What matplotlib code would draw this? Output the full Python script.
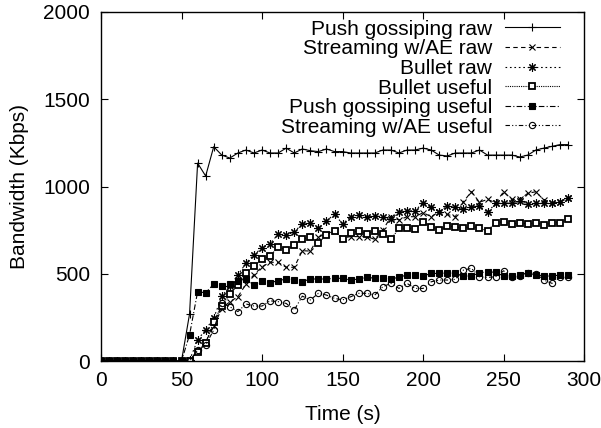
import matplotlib
matplotlib.use("Agg")
import matplotlib.pyplot as plt
import numpy as np

plt.rcParams['font.family'] = ['Liberation Sans', 'DejaVu Sans']

time = list(range(0, 295, 5))
zeros50 = [0] * 11  # t = 0..50

push_raw = zeros50 + [270, 1134, 1060, 1228, 1180, 1163, 1192, 1209, 1192, 1209,
                      1192, 1192, 1220, 1192, 1215, 1205, 1200, 1215, 1200, 1200,
                      1192, 1192, 1192, 1192, 1209, 1209, 1192, 1209, 1209, 1220,
                      1209, 1180, 1175, 1192, 1192, 1192, 1209, 1180, 1180, 1180,
                      1180, 1169, 1180, 1209, 1220, 1230, 1240, 1240]
stream_raw = zeros50 + [0, 60, 110, 200, 300, 340, 368, 440, 495, 540,
                        566, 565, 537, 537, 632, 630, 710, 730, 745, 705,
                        713, 713, 713, 697, 750, 827, 808, 827, 827, 850,
                        827, 856, 840, 827, 913, 970, 910, 926, 907, 970,
                        926, 926, 961, 970, 922, 907, 913, 932]
bullet_raw = zeros50 + [5, 120, 180, 246, 370, 430, 493, 560, 610, 648,
                        672, 727, 720, 741, 785, 789, 760, 802, 842, 785,
                        827, 836, 827, 831, 827, 812, 856, 861, 861, 907,
                        880, 856, 888, 880, 869, 884, 888, 852, 903, 907,
                        903, 918, 899, 903, 903, 903, 913, 932]
bullet_useful = zeros50 + [0, 53, 103, 225, 317, 383, 435, 506, 544, 583,
                           602, 653, 638, 665, 700, 709, 678, 722, 747, 697,
                           735, 747, 728, 747, 728, 697, 760, 760, 755, 798,
                           770, 753, 772, 770, 760, 774, 760, 747, 793, 798,
                           785, 793, 785, 793, 779, 793, 793, 812]
push_useful = zeros50 + [150, 397, 391, 441, 430, 441, 460, 470, 435, 460,
                         449, 460, 470, 464, 455, 470, 470, 470, 474, 474,
                         464, 470, 480, 474, 474, 470, 480, 493, 493, 487,
                         502, 502, 505, 502, 487, 487, 505, 512, 508, 487,
                         487, 493, 505, 493, 487, 487, 493, 493]
stream_useful = zeros50 + [0, 63, 92, 178, 332, 311, 283, 327, 315, 315,
                           345, 340, 330, 292, 372, 350, 388, 378, 359, 350,
                           368, 388, 388, 378, 426, 445, 416, 445, 416, 416,
                           454, 464, 464, 468, 521, 531, 483, 479, 483, 517,
                           483, 487, 506, 499, 464, 445, 479, 479]

labels = ["Push gossiping raw", "Streaming w/AE raw", "Bullet raw",
          "Bullet useful", "Push gossiping useful", "Streaming w/AE useful"]
series = [push_raw, stream_raw, bullet_raw, bullet_useful, push_useful, stream_useful]
styles = [
    dict(ls='-', marker='+', ms=6, mew=0.8),
    dict(ls=(0, (4, 3)), marker='x', ms=5, mew=0.8),
    dict(ls=(0, (1.5, 2.5)), marker=(8, 2, 0), ms=6, mew=0.8),
    dict(ls=(0, (1, 1)), marker='s', ms=5, mew=1.3, mfc='white'),
    dict(ls=(0, (5, 2, 1, 2)), marker='s', ms=5, mew=0.8, mfc='black'),
    dict(ls=(0, (4, 2, 1, 2, 1, 2)), marker='o', ms=4.5, mew=0.8, mfc='none'),
]

FS = 15
fig = plt.figure(figsize=(6.01, 4.28), dpi=100)
ax = fig.add_axes([0.168, 0.1565, 0.804, 0.8155])

for y, lab, st in zip(series, labels, styles):
    ax.plot(time, y, color='black', lw=0.8, label=lab, **st)

ax.set_xlim(0, 300)
ax.set_ylim(0, 2000)
ax.set_xticks(range(0, 301, 50))
ax.set_yticks(range(0, 2001, 500))
ax.tick_params(direction='in', length=5, width=0.8, top=True, right=True,
               labelsize=FS)
ax.tick_params(axis='x', pad=7)
ax.tick_params(axis='y', pad=8)
for s in ax.spines.values():
    s.set_linewidth(1.0)
ax.set_xlabel("Time (s)", fontsize=FS, labelpad=11)
ax.set_ylabel("Bandwidth (Kbps)", fontsize=FS, labelpad=10)

leg = ax.legend(loc='upper right', bbox_to_anchor=(0.950, 0.978),
                frameon=False, markerfirst=False,
                numpoints=1, fontsize=FS, handlelength=2.65, handletextpad=0.6,
                labelspacing=0.03, borderaxespad=0, borderpad=0)
for col in leg._legend_handle_box.get_children():
    col.align = 'right'

fig.savefig("out.png", dpi=100)
